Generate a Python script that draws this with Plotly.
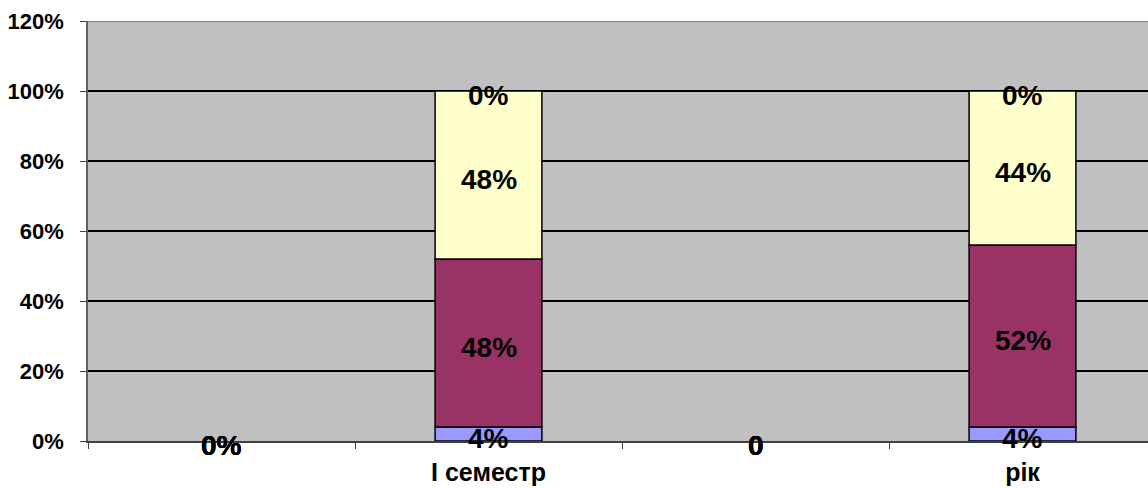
import plotly.graph_objects as go

categories = ["", "І семестр", "", "рік"]
series_names = ["Ряд1", "Ряд2", "Ряд3", "Ряд4"]
blue_vals = [0, 4, 0, 4]
maroon_vals = [0, 48, 0, 52]
yellow_vals = [0, 48, 0, 44]
top_vals = [0, 0, 0, 0]
blue_labels = ["0%", "4%", "0", "4%"]
maroon_labels = ["0%", "48%", "0", "52%"]
yellow_labels = ["0%", "48%", "0", "44%"]
top_labels = ["0%", "0%", "0", "0%"]
y_ticks = [0, 20, 40, 60, 80, 100, 120]

colors = ["#9999FF", "#993366", "#FFFFCC", "#CCFFFF"]
FONT = "Liberation Sans, Arial, sans-serif"

xs = list(range(len(categories)))
all_vals = [blue_vals, maroon_vals, yellow_vals, top_vals]
all_labels = [blue_labels, maroon_labels, yellow_labels, top_labels]

fig = go.Figure()
base = [0] * len(xs)
for name, vals, labs, col in zip(series_names, all_vals, all_labels, colors):
    fig.add_trace(go.Bar(x=xs, y=vals, base=base, name=name,
                         marker=dict(color=col, line=dict(color="black", width=[1.5 if v > 0 else 0 for v in vals])),
                         width=0.4, showlegend=False, hoverinfo="skip"))
    for i, (v, t) in enumerate(zip(vals, labs)):
        fig.add_annotation(x=xs[i], y=base[i] + v / 2, text=f"<b>{t}</b>", showarrow=False,
                           yshift=-4, font=dict(family=FONT, size=28, color="black"))
    base = [b + v for b, v in zip(base, vals)]

fig.update_layout(
    width=1148, height=488,
    margin=dict(l=88, r=0, t=21, b=47, autoexpand=False),
    paper_bgcolor="white", plot_bgcolor="#C0C0C0",
    barmode="overlay",
    font=dict(family=FONT, color="black"),
)
fig.update_xaxes(
    range=[-0.5, -0.5 + 1060 / 267],
    tickmode="array", tickvals=[1, 3], ticktext=[f"<b>{categories[1]}</b>", f"<b>{categories[3]}</b>"],
    ticks="", tickfont=dict(family=FONT, size=25, color="black"), ticklabelstandoff=8,
    showgrid=False, zeroline=False, automargin=False,
    showline=True, linecolor="#404040", linewidth=1.5,
    minor=dict(tickmode="array", tickvals=[-0.5, 0.5, 1.5, 2.5, 3.5], ticks="outside", ticklen=6, tickcolor="#404040", showgrid=False),
)
fig.update_yaxes(
    range=[0, 120], tickmode="array", tickvals=y_ticks, ticktext=[f"<b>{v}%</b>" for v in y_ticks],
    ticks="outside", ticklen=6, tickcolor="#404040", ticklabelstandoff=12,
    tickfont=dict(family=FONT, size=22, color="black"),
    showgrid=True, gridcolor="black", gridwidth=1.5, zeroline=False, automargin=False,
    showline=True, linecolor="#606060", linewidth=1.5,
)
fig.add_shape(type="line", xref="paper", yref="y", x0=0, x1=1, y0=120, y1=120, line=dict(color="#808080", width=2))

fig.write_html("out.html", config={"displayModeBar": False},
               post_script="document.body.style.margin='0';document.body.style.overflow='hidden';")
